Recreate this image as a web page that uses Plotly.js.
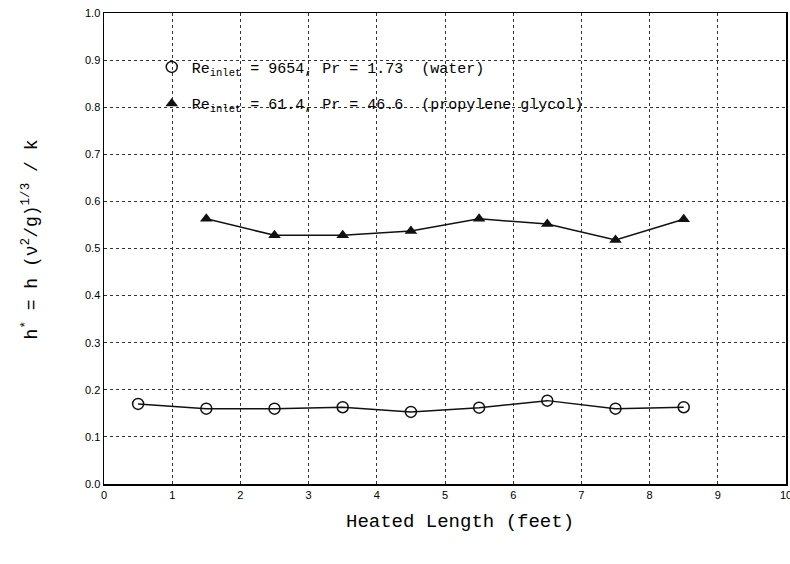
<!DOCTYPE html>
<html>
<head>
<meta charset="utf-8">
<script src="https://cdn.plot.ly/plotly-3.0.1.min.js"></script>
<style>html,body{margin:0;padding:0;background:#fff;overflow:hidden;}#chart{width:790px;height:564px;}</style>
</head>
<body>
<div id="chart"></div>
<script>
const xWater = [0.5, 1.5, 2.5, 3.5, 4.5, 5.5, 6.5, 7.5, 8.5];
const hWater = [0.170, 0.160, 0.160, 0.163, 0.153, 0.162, 0.177, 0.160, 0.163];
const xGlycol = [1.5, 2.5, 3.5, 4.5, 5.5, 6.5, 7.5, 8.5];
const hGlycol = [0.563, 0.528, 0.528, 0.537, 0.563, 0.552, 0.518, 0.562];
const nameWater = "Re<sub>inlet</sub> = 9654, Pr = 1.73  (water)";
const nameGlycol = "Re<sub>inlet</sub> = 61.4, Pr = 46.6  (propylene glycol)";
const xTitle = "Heated Length (feet)";
const yTitle = "h<sup>*</sup> = h (\u03BD<sup>2</sup>/g)<sup>1/3</sup> / k";

const mono = "Liberation Mono";
const traces = [
  {x: xWater, y: hWater, mode: "lines+markers", showlegend: false,
   line: {color: "#111", width: 1.5},
   marker: {symbol: "circle-open", size: 11, color: "#111", line: {width: 1.5}}},
  {x: xGlycol, y: hGlycol, mode: "lines+markers", showlegend: false,
   line: {color: "#111", width: 1.5},
   marker: {symbol: "triangle-up", size: 11, color: "#111"}},
  {x: [null], y: [null], mode: "markers", name: nameWater, legendgroup: "a",
   marker: {symbol: "circle-open", size: 11, color: "#111", line: {width: 1.5}}},
  {x: [null], y: [null], mode: "markers", name: nameGlycol, legendgroup: "b",
   marker: {symbol: "triangle-up", size: 11, color: "#111"}}
];
const axisCommon = {
  showline: true, linecolor: "#000", linewidth: 1.5, mirror: true,
  showgrid: true, gridcolor: "#333", griddash: "dot", gridwidth: 1,
  zeroline: false, ticks: "", tickfont: {family: "Liberation Sans, Arial, sans-serif", size: 11, color: "#000"}
};
const layout = {
  width: 790, height: 564,
  margin: {l: 104, r: 4, t: 13, b: 80},
  paper_bgcolor: "#fff", plot_bgcolor: "#fff",
  showlegend: true,
  legend: {x: 0.07, y: 0.92, xanchor: "left", yanchor: "top", bgcolor: "rgba(0,0,0,0)",
           font: {family: mono, size: 15, color: "#000"}, traceorder: "grouped", tracegroupgap: 14},
  xaxis: Object.assign({}, axisCommon, {range: [0, 10], dtick: 1, tickformat: "d", ticklabeloverflow: "allow"}),
  yaxis: Object.assign({}, axisCommon, {range: [0, 1], dtick: 0.1, tickformat: ".1f"}),
  annotations: [
    {text: xTitle, xref: "paper", yref: "paper", x: 0.522, y: -0.081, yanchor: "middle", xanchor: "center",
     showarrow: false, font: {family: mono, size: 19, color: "#000"}},
    {text: yTitle, xref: "paper", yref: "paper", x: -0.108, y: 0.52, textangle: -90,
     xanchor: "center", yanchor: "middle", showarrow: false, font: {family: mono, size: 18, color: "#000"}}
  ]
};
Plotly.newPlot("chart", traces, layout, {displayModeBar: false, staticPlot: true});
</script>
</body>
</html>
